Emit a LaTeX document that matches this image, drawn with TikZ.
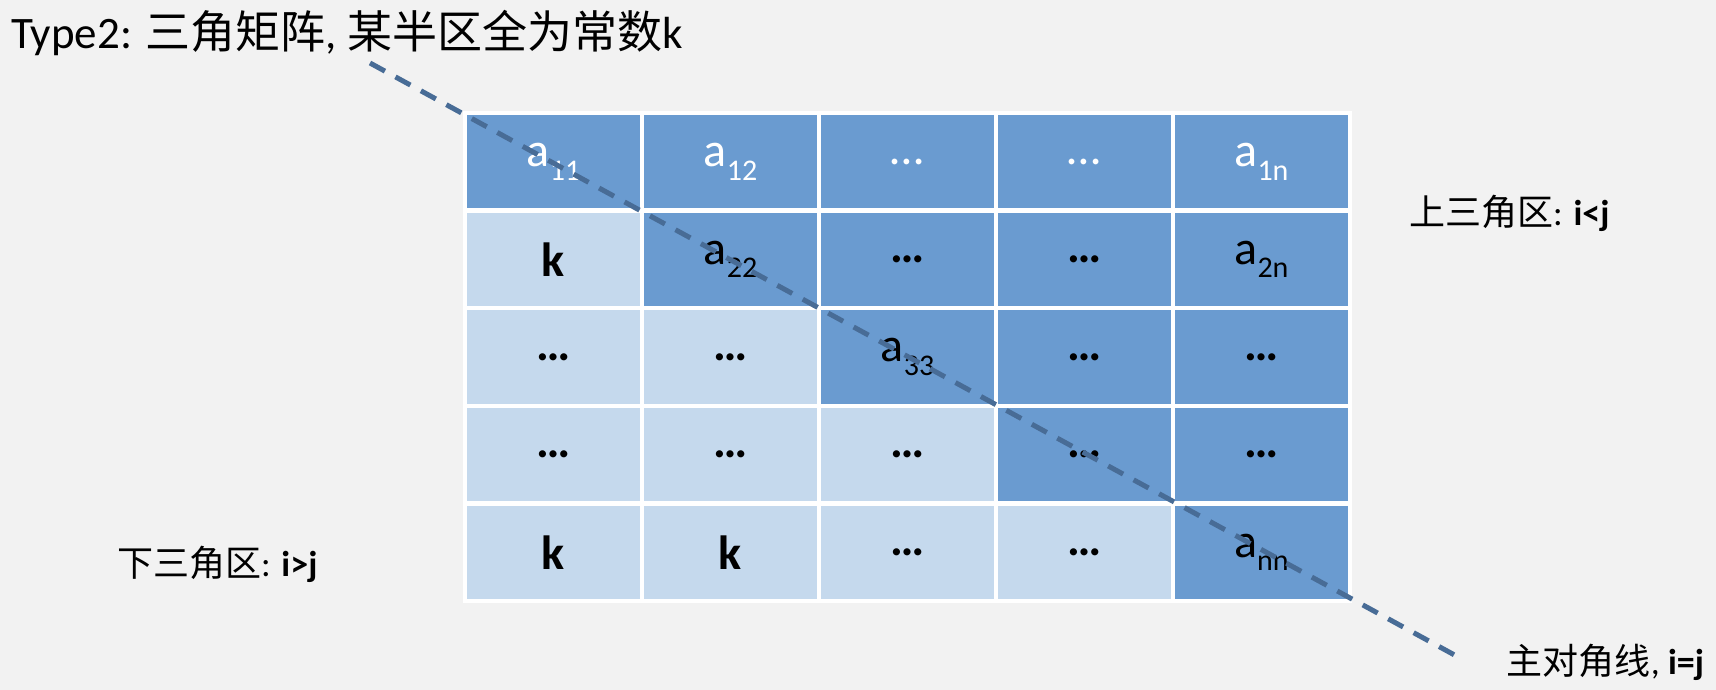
\documentclass[tikz,border=0pt]{standalone}
\usepackage{fontspec}
\setmainfont{Carlito}
\newfontfamily\cjk{Noto Sans CJK SC}
\usepackage{tikz}
\definecolor{cf2f2f2}{RGB}{242,242,242}
\definecolor{c6a9bd0}{RGB}{106,155,208}
\definecolor{cc5d9ed}{RGB}{197,217,237}
\definecolor{c486c96}{RGB}{72,108,150}
\newcommand{\msub}[1]{\raisebox{-0.28em}{\fontsize{30}{30}\selectfont #1}}
\newcommand{\bdots}{\textbf{\ldots}}
\tikzset{
  cellhi/.style={fill=c6a9bd0,draw=white,line width=4.5pt,minimum width=177pt,minimum height=97.6pt,
    font=\fontsize{48}{50}\selectfont},
  celllo/.style={cellhi,fill=cc5d9ed},
  lbl/.style={font=\fontsize{36}{38}\selectfont},
  ttl/.style={font=\fontsize{45}{48}\selectfont},
  diagline/.style={draw=c486c96,line width=5pt,dash pattern=on 17pt off 12pt}
}

\begin{document}
\begin{tikzpicture}[y=1pt,x=1pt,yscale=-1, inner sep=0pt, outer sep=0pt]
  \fill[cf2f2f2] (0,0) rectangle (1716,690);
  \useasboundingbox (0,0) rectangle (1716,690);
  % matrix cells
  \foreach \i/\j/\txt in {1/1/{a\msub{11}},1/2/{a\msub{12}},1/3/\ldots,1/4/\ldots,1/5/{a\msub{1n}},
      2/1/\textbf{k},2/2/{a\msub{22}},2/3/\bdots,2/4/\bdots,2/5/{a\msub{2n}},
      3/1/\bdots,3/2/\bdots,3/3/{a\msub{33}},3/4/\bdots,3/5/\bdots,
      4/1/\bdots,4/2/\bdots,4/3/\bdots,4/4/\bdots,4/5/\bdots,
      5/1/\textbf{k},5/2/\textbf{k},5/3/\bdots,5/4/\bdots,5/5/{a\msub{nn}}}{
    \ifnum\j<\i \def\cellstyle{celllo}\else\def\cellstyle{cellhi}\fi
    \ifnum\i=1 \def\txtcol{white}\else\def\txtcol{black}\fi
    \node[\cellstyle,text=\txtcol] (c\i\j) at ({465+177*(\j-0.5)},{113+97.6*(\i-0.5)}) {\txt};
  }
  % main diagonal
  \coordinate (dstart) at (370,63);
  \coordinate (dend) at (1460,658);
  \draw[diagline] (dstart) -- (dend);
  % labels
  \node[ttl,anchor=west] (title) at (11,33) {Type2: {\cjk 三角矩阵}, {\cjk 某半区全为常数}k};
  \node[lbl,anchor=west] (upper) at (1409,213) {{\cjk 上三角区}: \textbf{i<j}};
  \node[lbl,anchor=west] (lower) at (117,564) {{\cjk 下三角区}: \textbf{i>j}};
  \node[lbl,anchor=east] (diag) at (1704,662) {{\cjk 主对角线}, \textbf{i=j}};
\end{tikzpicture}
\end{document}
